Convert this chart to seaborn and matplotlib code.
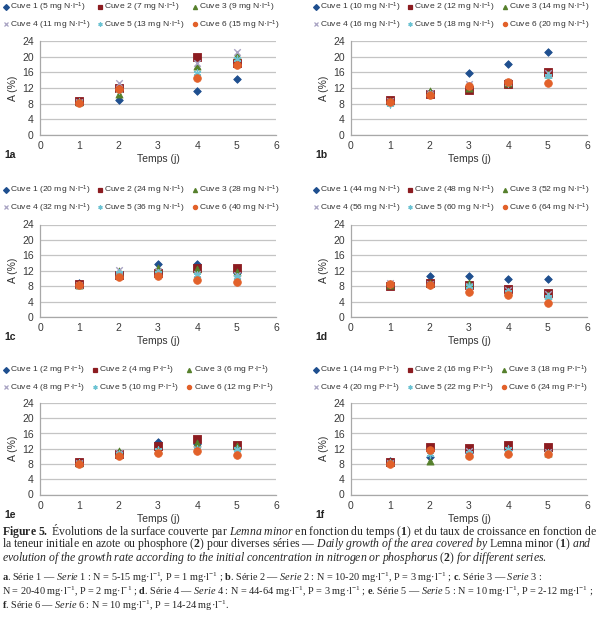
import matplotlib
matplotlib.use('Agg')
import matplotlib.pyplot as plt
from matplotlib.lines import Line2D
import seaborn as sns
import pandas as pd

sns.set_style('white')
plt.rcParams['font.family'] = ['Liberation Sans', 'DejaVu Sans']
plt.rcParams['mathtext.fontset'] = 'custom'
plt.rcParams['mathtext.rm'] = 'Liberation Serif'
plt.rcParams['mathtext.it'] = 'Liberation Serif:italic'
plt.rcParams['mathtext.bf'] = 'Liberation Serif:bold'
plt.rcParams['mathtext.sf'] = 'Liberation Sans'

cuves = ['Cuve 1', 'Cuve 2', 'Cuve 3', 'Cuve 4', 'Cuve 5', 'Cuve 6']
colors = ['#1f4f8f', '#8c1c20', '#56802c', '#a8a2c2', '#6cc3d3', '#e2612a']
markers = ['D', 's', '^', 'x', (6, 2, 0), 'o']
sizes = [15, 26, 26, 22, 24, 30]

# series 1a (no measure at day 3)
days_a = [1, 2, 4, 5]
conc_a = [5, 7, 9, 11, 13, 15]
area_a = [[8.5, 9.0, 11.3, 14.3],
          [8.6, 11.9, 20.0, 18.5],
          [8.4, 10.5, 17.7, 20.4],
          [8.5, 13.3, 18.5, 21.2],
          [8.3, 11.5, 15.9, 19.5],
          [8.2, 11.8, 14.6, 17.9]]

days = [1, 2, 3, 4, 5]
conc_b = [10, 12, 14, 16, 18, 20]
area_b = [[8.8, 10.8, 15.8, 18.1, 21.1],
          [9.0, 10.5, 11.6, 13.0, 16.1],
          [8.8, 11.2, 12.0, 13.2, 15.5],
          [8.6, 10.6, 13.0, 13.5, 15.8],
          [8.0, 10.4, 12.5, 13.3, 15.0],
          [8.3, 10.3, 12.4, 13.6, 13.4]]

conc_c = [20, 24, 28, 32, 36, 40]
area_c = [[8.7, 11.3, 13.8, 13.8, 11.5],
          [8.6, 11.0, 11.5, 12.6, 12.7],
          [8.3, 12.0, 12.6, 12.4, 11.7],
          [8.3, 12.2, 12.0, 11.2, 10.8],
          [8.2, 11.5, 11.3, 10.8, 10.4],
          [8.2, 10.4, 10.7, 9.5, 9.2]]

conc_d = [44, 48, 52, 56, 60, 64]
area_d = [[8.2, 10.6, 10.6, 9.9, 9.9],
          [8.0, 8.8, 8.4, 7.3, 6.1],
          [8.2, 8.9, 8.7, 6.8, 5.6],
          [8.9, 8.5, 8.0, 7.0, 6.0],
          [8.6, 8.3, 8.0, 6.5, 5.2],
          [8.5, 8.2, 6.6, 5.7, 3.7]]

conc_e = [2, 4, 6, 8, 10, 12]
area_e = [[8.4, 10.8, 13.7, 13.2, 12.5],
          [8.4, 10.6, 12.6, 14.6, 13.1],
          [8.3, 11.3, 11.6, 13.4, 12.8],
          [8.3, 10.9, 11.5, 12.0, 11.7],
          [8.2, 10.5, 11.8, 12.0, 12.0],
          [8.1, 10.2, 10.8, 11.5, 10.4]]

conc_f = [14, 16, 18, 20, 22, 24]
area_f = [[8.7, 9.9, 11.0, 11.8, 11.5],
          [8.5, 12.4, 12.1, 12.9, 12.5],
          [8.4, 8.9, 10.5, 11.5, 11.0],
          [8.3, 11.0, 11.5, 11.8, 11.2],
          [8.2, 10.5, 10.8, 12.0, 11.0],
          [8.1, 11.6, 10.0, 10.5, 10.6]]

fig = plt.figure(figsize=(6, 6.23), dpi=100)
H = 623.0


def px(x, y):
    return x / 600.0, 1 - y / H


def panel(left, top, bottom, tag, d, area, conc, elem, leg_x, leg_y):
    x0, y1 = px(left, top)
    _, y0 = px(left, bottom)
    ax = fig.add_axes([x0, y0, 236 / 600.0, y1 - y0])
    for i in range(6):
        df = pd.DataFrame({'Temps': d, 'A': area[i]})
        filled = markers[i] not in ('x', (6, 2, 0))
        sns.scatterplot(data=df, x='Temps', y='A', ax=ax, color=colors[i],
                        marker=markers[i], s=sizes[i], edgecolor=colors[i],
                        linewidth=0.6 if filled else 1.0, zorder=3, legend=False)
    ax.set_xlim(0, 6)
    ax.set_ylim(0, 24)
    ax.set_xticks(range(7))
    ax.set_yticks(range(0, 25, 4))
    ax.yaxis.grid(True, color='#c4c4c4', lw=0.9)
    ax.set_axisbelow(True)
    for s in ['top', 'right']:
        ax.spines[s].set_visible(False)
    for s in ['left', 'bottom']:
        ax.spines[s].set_color('#a8a8a8')
        ax.spines[s].set_linewidth(0.9)
    ax.tick_params(length=3, width=0.8, color='#a8a8a8', labelsize=7.5,
                   labelcolor='#3a3a3a', pad=1.5)
    ax.set_xlabel('Temps (j)', fontsize=7.5, color='#333333', labelpad=2)
    ax.set_ylabel('A (%)', fontsize=7.5, color='#333333', labelpad=3)
    fig.text(*px(left - 36, bottom + 20), tag, fontsize=7.5, fontweight='bold',
             va='center', color='#222222')

    handles = [Line2D([], [], linestyle='none', marker=markers[i], color=colors[i],
                      markersize=3.0, markeredgewidth=0.9) for i in range(6)]
    labels = [f'{cuves[i]} ({conc[i]} mg {elem}·l' + r'$^{\mathsf{-1}}$)' for i in range(6)]
    order = [0, 3, 1, 4, 2, 5]
    fig.legend([handles[k] for k in order], [labels[k] for k in order], ncol=3,
               loc='upper left', bbox_to_anchor=px(leg_x, leg_y), frameon=False,
               fontsize=6.1, handlelength=0.6, handletextpad=0.2,
               columnspacing=0.9, borderaxespad=0, borderpad=0,
               labelspacing=0.5, labelcolor='#333333')
    return ax


panel(40, 41, 135, '1a', days_a, area_a, conc_a, 'N', 3, 1)
panel(351, 41, 135, '1b', days, area_b, conc_b, 'N', 313, 1)
panel(40, 224.5, 317, '1c', days, area_c, conc_c, 'N', 3, 184)
panel(351, 224.5, 317, '1d', days, area_d, conc_d, 'N', 313, 184)
panel(40, 403, 494.5, '1e', days, area_e, conc_e, 'P', 3, 364)
panel(351, 403, 494.5, '1f', days, area_f, conc_f, 'P', 313, 364)

cap1 = [
    r'$\mathbf{Figure\ 5.}$ Évolutions de la surface couverte par $\mathit{Lemna\ minor}$ en fonction du temps ($\mathbf{1}$) et du taux de croissance en fonction de',
    r'la teneur initiale en azote ou phosphore ($\mathbf{2}$) pour diverses séries — $\mathit{Daily\ growth\ of\ the\ area\ covered\ by}$ Lemna minor $\mathit{(}$$\mathbf{1}$$\mathit{)\ and}$',
    r'$\mathit{evolution\ of\ the\ growth\ rate\ according\ to\ the\ initial\ concentration\ in\ nitrogen\ or\ phosphorus\ (}$$\mathbf{2}$$\mathit{)\ for\ different\ series}$.',
]
cap2 = [
    r'$\mathbf{a}$. Série 1 — $\mathit{Serie\ 1}$ : N = 5-15 mg·l$^{-1}$, P = 1 mg·l$^{-1}$ ; $\mathbf{b}$. Série 2 — $\mathit{Serie\ 2}$ : N = 10-20 mg·l$^{-1}$, P = 3 mg·l$^{-1}$ ; $\mathbf{c}$. Série 3 — $\mathit{Serie\ 3}$ :',
    r'N = 20-40 mg·l$^{-1}$, P = 2 mg·l$^{-1}$ ; $\mathbf{d}$. Série 4 — $\mathit{Serie\ 4}$ : N = 44-64 mg·l$^{-1}$, P = 3 mg·l$^{-1}$ ; $\mathbf{e}$. Série 5 — $\mathit{Serie\ 5}$ : N = 10 mg·l$^{-1}$, P = 2-12 mg·l$^{-1}$ ;',
    r'$\mathbf{f}$. Série 6 — $\mathit{Serie\ 6}$ : N = 10 mg·l$^{-1}$, P = 14-24 mg·l$^{-1}$.',
]
for k, line in enumerate(cap1):
    fig.text(*px(2, 531 + 13.5 * k), line, fontsize=8.5, family='Liberation Serif',
             va='center', ha='left')
for k, line in enumerate(cap2):
    fig.text(*px(2, 578 + 13.8 * k), line, fontsize=7.4, family='Liberation Serif',
             va='center', ha='left')

fig.savefig('out.png', dpi=100)
